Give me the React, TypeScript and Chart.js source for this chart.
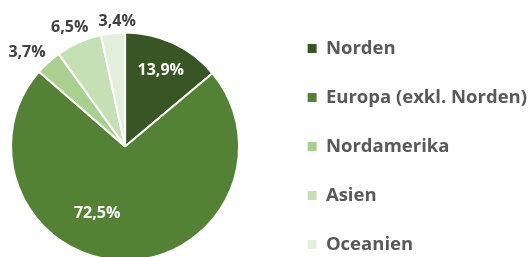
import React, { useEffect, useRef } from 'react';
import { Chart, registerables } from 'chart.js';

Chart.register(...registerables);

const categories = ['Norden', 'Europa (exkl. Norden)', 'Nordamerika', 'Asien', 'Oceanien'];
const shares = [13.9, 72.5, 3.7, 6.5, 3.4];
const sliceColors = ['#375623', '#548235', '#A9D08E', '#C5E0B4', '#E2EFDA'];
// small angular nudges (degrees) for label placement, mimicking the original's best-fit labels
const labelAngleNudge = [0, 22, -4, -1, 2.5];

const formatShare = (v: number) => v.toFixed(1).replace('.', ',') + '%';

const sliceLabelPlugin = {
  id: 'sliceLabels',
  afterDatasetsDraw(chart: any) {
    const meta = chart.getDatasetMeta(0);
    const ctx = chart.ctx as CanvasRenderingContext2D;
    ctx.save();
    ctx.font = 'bold 16px "Open Sans"';
    ctx.textAlign = 'center';
    ctx.textBaseline = 'middle';
    meta.data.forEach((arc: any, i: number) => {
      const p = arc.getProps(['x', 'y', 'startAngle', 'endAngle', 'outerRadius'], true);
      const value = shares[i];
      const text = formatShare(value);
      const mid = (p.startAngle + p.endAngle) / 2 + (labelAngleNudge[i] * Math.PI) / 180;
      const inside = value >= 10;
      let r: number;
      if (inside) {
        r = p.outerRadius * (i === 1 ? 0.64 : 0.74);
        ctx.fillStyle = '#FFFFFF';
      } else {
        const w = ctx.measureText(text).width;
        const h = 12;
        r = p.outerRadius + 4 + Math.abs(Math.cos(mid)) * w / 2 + Math.abs(Math.sin(mid)) * h / 2;
        ctx.fillStyle = '#404040';
      }
      ctx.fillText(text, p.x + Math.cos(mid) * r, p.y + Math.sin(mid) * r);
    });
    ctx.restore();
  },
};

export default function App() {
  const ref = useRef<HTMLCanvasElement>(null);
  useEffect(() => {
    const baseGen = (Chart as any).overrides.pie.plugins.legend.labels.generateLabels;
    const chart = new Chart(ref.current!, {
      type: 'pie',
      data: {
        labels: categories,
        datasets: [
          {
            data: shares,
            backgroundColor: sliceColors,
            borderColor: '#FFFFFF',
            borderWidth: 2,
            radius: 114,
          } as any,
        ],
      },
      options: {
        animation: false,
        responsive: false,
        devicePixelRatio: 1,
        layout: { padding: { right: 0 } },
        plugins: {
          tooltip: { enabled: false },
          legend: {
            position: 'right',
            align: 'center',
            labels: {
              boxWidth: 9,
              boxHeight: 9,
              padding: 30.5,
              color: '#595959',
              font: { family: 'Open Sans', size: 18.5, weight: 'bold' },
              generateLabels: (c: any) =>
                baseGen(c).map((it: any) => ({ ...it, lineWidth: 0, strokeStyle: 'rgba(0,0,0,0)' })),
            },
          },
        },
      },
      plugins: [sliceLabelPlugin],
    });
    return () => chart.destroy();
  }, []);

  return (
    <div style={{ position: 'absolute', left: 0, top: 0, width: 531, height: 257, overflow: 'hidden', background: '#fff' }}>
      <div style={{ position: 'absolute', left: -27, top: 0 }}>
        <canvas ref={ref} width={564} height={293} style={{ display: 'block' }} />
      </div>
    </div>
  );
}
